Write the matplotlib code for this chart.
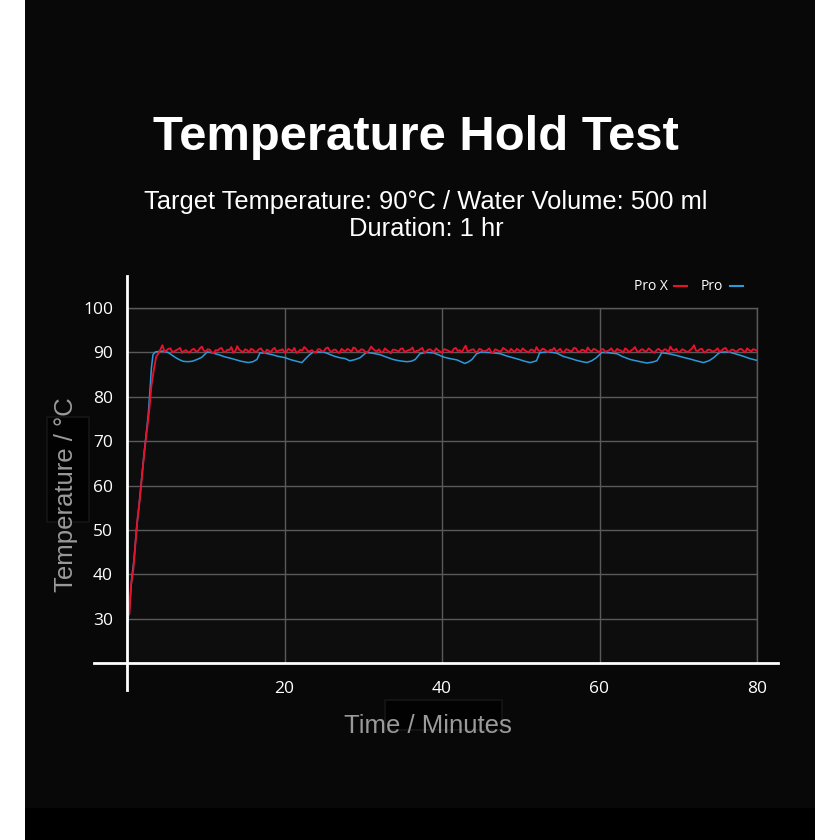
import matplotlib
matplotlib.use("Agg")
import matplotlib.pyplot as plt
from matplotlib.patches import Rectangle
from matplotlib.lines import Line2D
import numpy as np

# ================== DATA ==================
# Pro X: heat-up ramp, then logged every 0.25 min from 4.5 to 80 min
prox_ramp_t = [0.1, 0.3, 0.5, 0.8, 1.0, 1.3, 1.6, 1.9, 2.2, 2.5, 2.8, 3.1, 3.4, 3.7, 4.0]
prox_ramp_v = [33.5, 31.0, 37.5, 41.0, 45.5, 52.0, 56.5, 62.0, 67.5, 72.0, 76.5, 82.5, 86.0, 89.0, 89.8]
# readings on the half minute (4.5, 5.0, ... 80.0)
prox_hold_v = [
    91.6, 90.4, 90.9, 90.2, 90.7, 89.9, 90.5, 90.1, 90.8, 90.3,
    91.3, 90.2, 90.6, 89.8, 90.4, 91.0, 90.1, 90.5, 89.9, 91.4,
    90.3, 90.7, 90.0, 90.6, 90.2, 90.9, 89.8, 90.4, 90.7, 90.1,
    90.5, 90.0, 90.8, 90.3, 89.9, 90.6, 91.2, 90.2, 90.5, 90.0,
    90.7, 90.3, 91.1, 90.1, 90.6, 89.9, 90.4, 90.8, 90.2, 90.9,
    90.3, 90.6, 90.0, 91.3, 90.4, 90.7, 90.1, 90.5, 89.8, 90.6,
    90.2, 90.9, 90.3, 90.6, 90.0, 90.4, 91.0, 90.2, 90.7, 90.1,
    90.5, 89.9, 90.6, 90.2, 90.8, 90.3, 90.0, 91.5, 90.4, 90.7,
    90.1, 90.6, 90.3, 90.9, 89.9, 90.5, 90.2, 90.7, 90.0, 90.4,
    90.8, 90.2, 90.5, 90.0, 90.6, 91.2, 90.3, 90.7, 90.1, 90.5,
    90.2, 90.8, 90.0, 90.6, 90.3, 90.9, 90.1, 90.5, 91.1, 90.2,
    90.6, 90.0, 90.7, 90.3, 90.9, 90.2, 90.5, 89.9, 90.6, 90.4,
    91.2, 90.1, 90.7, 90.3, 90.5, 89.9, 90.8, 90.2, 90.6, 91.3,
    90.4, 90.0, 90.7, 90.2, 90.5, 91.6, 90.3, 90.8, 90.1, 90.6,
    90.2, 90.9, 90.4, 91.0, 90.1, 90.6, 90.3, 90.8, 90.0, 90.5,
    90.7, 90.3,
]
# readings in between (4.75, 5.25, ... 79.75)
prox_mid_v = [
    90.2, 90.8, 90.1, 90.5, 91.0, 90.3, 90.0, 90.6, 90.2, 90.9,
    90.4, 90.7, 90.0, 90.5, 90.8, 90.2, 90.6, 91.2, 90.3, 90.6,
    90.0, 90.5, 90.8, 90.1, 90.7, 90.3, 90.6, 90.0, 91.0, 90.4,
    90.7, 90.2, 90.5, 91.0, 90.1, 90.4, 90.8, 90.3, 90.0, 90.7,
    90.2, 90.9, 90.4, 90.6, 90.0, 90.8, 90.3, 90.5, 91.1, 90.2,
    90.7, 90.1, 90.5, 90.8, 90.3, 90.0, 90.9, 90.2, 90.6, 90.4,
    90.8, 90.1, 90.5, 91.1, 90.3, 90.7, 90.0, 90.6, 90.3, 90.9,
    90.2, 90.7, 90.4, 90.0, 91.0, 90.5, 90.8, 90.2, 90.6, 90.1,
    90.8, 90.3, 90.5, 90.0, 90.7, 90.3, 91.0, 90.4, 90.8, 90.1,
    90.5, 90.9, 90.2, 90.6, 90.0, 90.4, 90.8, 90.3, 90.6, 91.0,
    90.4, 90.1, 90.7, 90.3, 91.0, 90.2, 90.6, 90.0, 90.5, 90.8,
    90.3, 90.7, 90.1, 90.5, 90.2, 90.8, 90.4, 90.9, 90.0, 90.7,
    90.3, 90.6, 90.2, 90.9, 90.1, 90.5, 90.4, 90.7, 90.0, 90.6,
    90.8, 90.2, 90.5, 90.1, 90.9, 90.4, 90.7, 90.0, 90.6, 90.3,
    90.5, 90.1, 90.8, 90.3, 90.6, 90.2, 90.7, 90.4, 90.9, 90.2,
    90.6,
]
prox_hold_t = np.arange(4.5, 80.01, 0.5)
prox_mid_t = np.arange(4.75, 79.8, 0.5)

# Pro
pro_t = [0.05, 0.3, 0.6, 0.9, 1.2, 1.5, 1.8, 2.1, 2.4, 2.7, 2.9, 3.1, 3.3, 3.6,
         4.0, 4.6, 5.2, 5.7, 6.1, 6.6, 7.1, 7.7, 8.3, 8.9, 9.5, 9.9, 10.2, 10.8,
         11.6, 12.4, 13.1, 13.7, 14.5, 15.4, 16.0, 16.5, 16.9, 17.6, 18.4, 19.2,
         20.1, 20.7, 21.3, 22.2, 22.8, 23.2, 23.6, 24.3, 25.1, 25.8, 26.4, 27.0,
         27.7, 28.3, 29.0, 29.6, 30.0, 30.4, 31.2, 32.1, 33.0, 33.8, 34.6, 35.5,
         36.1, 36.6, 37.2, 38.0, 38.9, 39.5, 40.1, 41.0, 41.9, 42.4, 42.9, 43.4,
         43.8, 44.4, 45.0, 45.7, 46.5, 47.4, 48.2, 49.0, 49.8, 50.5, 51.2, 52.0,
         52.4, 53.2, 54.0, 54.6, 55.4, 56.2, 57.1, 57.8, 58.4, 59.0, 59.6, 60.3,
         61.2, 62.2, 63.0, 63.9, 64.9, 66.0, 66.7, 67.3, 67.9, 68.8, 69.8, 70.6,
         71.5, 72.3, 73.2, 73.9, 74.5, 75.0, 75.3, 76.0, 76.6, 77.4, 78.3, 79.1,
         80.0]
pro_v = [29.0, 32.0, 39.0, 43.5, 50.0, 55.0, 60.5, 66.0, 71.0, 76.0, 81.0, 86.5, 89.5, 90.1,
         90.2, 90.3, 90.0, 89.4, 88.9, 88.4, 88.0, 87.9, 88.0, 88.4, 88.9, 89.6, 90.1, 89.9,
         89.5, 89.0, 88.7, 88.4, 88.0, 87.7, 87.9, 88.4, 89.9, 89.8, 89.5, 89.1,
         88.8, 88.4, 88.1, 87.7, 88.8, 89.5, 90.0, 90.1, 90.0, 89.5, 89.1, 88.8,
         88.6, 88.1, 88.4, 88.8, 89.4, 90.0, 89.8, 89.5, 88.9, 88.4, 88.1, 87.9,
         88.0, 88.4, 89.7, 90.0, 89.9, 89.5, 89.0, 88.6, 88.3, 87.9, 87.5, 87.9,
         88.4, 89.7, 90.1, 90.0, 89.9, 89.7, 89.2, 88.8, 88.4, 88.0, 87.7, 88.1,
         89.9, 90.1, 90.0, 89.8, 89.1, 88.7, 88.2, 87.9, 87.7, 88.1, 88.8, 90.0,
         89.9, 89.7, 89.0, 88.4, 88.0, 87.6, 87.8, 88.1, 89.9, 89.7, 89.3, 88.9,
         88.5, 88.1, 87.7, 88.1, 88.8, 89.6, 90.0, 90.1, 90.0, 89.6, 89.1, 88.6,
         88.2]

x_ticks = [20, 40, 60, 80]
y_ticks = [30, 40, 50, 60, 70, 80, 90, 100]

hold_t = np.concatenate([prox_hold_t, prox_mid_t])
hold_v = np.array(prox_hold_v + prox_mid_v)
order = np.argsort(hold_t)
prox_t = np.concatenate([prox_ramp_t, hold_t[order]])
prox_v = np.concatenate([prox_ramp_v, hold_v[order]])

RED = "#e8112d"
BLUE = "#2b9ad8"

# ================== FIGURE ==================
fig = plt.figure(figsize=(8.4, 8.4), dpi=100, facecolor="white")

# dark panel + bottom black strip (kept under the axes)
fig.patches.append(Rectangle((25 / 840, 32 / 840), 790 / 840, 808 / 840,
                             transform=fig.transFigure, facecolor="#080808",
                             edgecolor="none", zorder=-3))
fig.patches.append(Rectangle((25 / 840, 0), 790 / 840, 32 / 840,
                             transform=fig.transFigure, facecolor="#000000",
                             edgecolor="none", zorder=-3))
# faint leftover boxes behind axis labels
fig.patches.append(Rectangle((47 / 840, 1 - 522 / 840), 42 / 840, 105 / 840,
                             transform=fig.transFigure, facecolor="#020202",
                             edgecolor="#161616", lw=1.2, zorder=-2))
fig.patches.append(Rectangle((385 / 840, 1 - 730 / 840), 117 / 840, 30 / 840,
                             transform=fig.transFigure, facecolor="#020202",
                             edgecolor="#161616", lw=1.2, zorder=-2))

ax = fig.add_axes([127 / 840, 1 - 663 / 840, 630 / 840, 355 / 840])
ax.set_zorder(1)
ax.set_facecolor("#0d0d0d")
ax.set_xlim(0, 80)
ax.set_ylim(20, 100)

ax.plot(pro_t, pro_v, color=BLUE, lw=1.1, zorder=3)
ax.plot(prox_t, prox_v, color=RED, lw=1.35, zorder=4)

ax.set_xticks(x_ticks)
ax.set_yticks(y_ticks)
ax.grid(True, color="#5a5a5a", lw=1.0, zorder=1)
ax.set_axisbelow(True)
for s in ["left", "bottom"]:
    ax.spines[s].set_visible(False)
for s in ["top", "right"]:
    ax.spines[s].set_color("#5a5a5a")
    ax.spines[s].set_linewidth(1.0)

ax.tick_params(length=0, colors="white", labelsize=12.5)
ax.tick_params(axis="x", pad=13)
ax.tick_params(axis="y", pad=10)
for lab in ax.get_xticklabels() + ax.get_yticklabels():
    lab.set_fontfamily("Open Sans")

# white axis lines that run past the plot area
ax.add_line(Line2D([-4.2, 82.7], [20, 20], color="white", lw=2, clip_on=False, zorder=5))
ax.add_line(Line2D([-0.05, -0.05], [13.9, 107.1], color="white", lw=2, clip_on=False, zorder=5))

# ================== TEXT ==================
fig.text(416 / 840, 1 - 137 / 840, "Temperature Hold Test", ha="center", va="center",
         color="white", fontsize=35.3, fontweight="bold", family="Liberation Sans")
fig.text(426 / 840, 1 - 202 / 840, "Target Temperature: 90°C / Water Volume: 500 ml",
         ha="center", va="center", color="white", fontsize=18.4, family="Liberation Sans")
fig.text(426 / 840, 1 - 229 / 840, "Duration: 1 hr", ha="center", va="center",
         color="white", fontsize=18.4, family="Liberation Sans")

fig.text(66 / 840, 1 - 495 / 840, "Temperature / °C", rotation=90, ha="center", va="center",
         color="#9a9a9a", fontsize=18.5, family="Liberation Sans")
fig.text(428 / 840, 1 - 726 / 840, "Time / Minutes", ha="center", va="center",
         color="#9a9a9a", fontsize=18.5, family="Liberation Sans")

handles = [Line2D([], [], color=RED, lw=1.5), Line2D([], [], color=BLUE, lw=1.5)]
leg = fig.legend(handles, ["Pro X", "Pro"], loc="center right",
                 bbox_to_anchor=(755 / 840, 1 - 287 / 840), ncol=2, frameon=False,
                 markerfirst=False, handlelength=0.9, handletextpad=0.5,
                 columnspacing=1.0, prop={"family": "Open Sans", "size": 10},
                 labelcolor="white")

fig.savefig("out.png", dpi=100, facecolor=fig.get_facecolor())
